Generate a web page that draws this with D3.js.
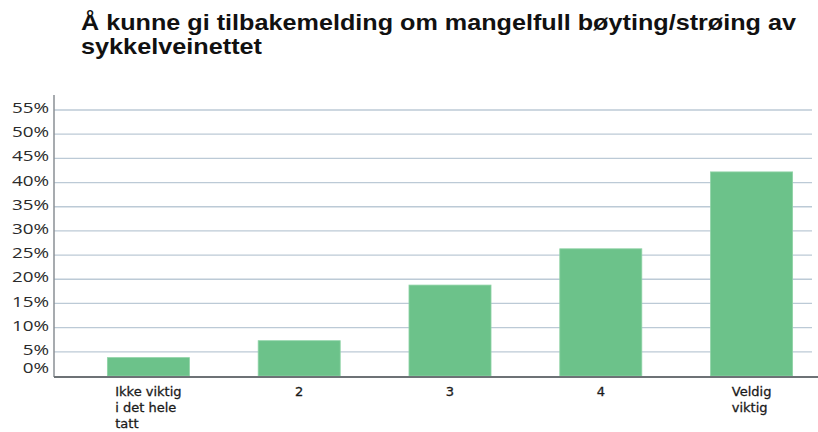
<!DOCTYPE html>
<html>
<head>
<meta charset="utf-8">
<script src="https://cdn.jsdelivr.net/npm/d3@7"></script>
<style>
  body { margin: 0; background: #fff; }
  svg { display: block; }
</style>
</head>
<body>
<script>
// chart data
const categories = ['Ikke viktig|i det hele|tatt', '2', '3', '4', 'Veldig|viktig'];
const shares = [0.038, 0.073, 0.188, 0.263, 0.422];
const yTicks = [0, 0.05, 0.10, 0.15, 0.20, 0.25, 0.30, 0.35, 0.40, 0.45, 0.50, 0.55];
const titleLines = ['Å kunne gi tilbakemelding om mangelfull bøyting/strøing av', 'sykkelveinettet'];
const titleWidths = [715, 181];

const W = 818, H = 432;
const axisLeft = 54, gridRight = 812;

const svg = d3.select('body').append('svg')
    .attr('width', W)
    .attr('height', H);

// title (the scan is stretched sideways, so force the widths)
svg.append('g').selectAll('text')
    .data(titleLines)
    .enter().append('text')
    .attr('x', 81)
    .attr('y', (d, i) => 29.5 + i * 24.5)
    .attr('textLength', (d, i) => titleWidths[i])
    .attr('lengthAdjust', 'spacingAndGlyphs')
    .style('font-family', '"Liberation Sans", Arial, sans-serif')
    .style('font-weight', 'bold')
    .style('font-size', '21.5px')
    .style('fill', '#111')
    .text(d => d);

const y = d3.scaleLinear()
    .domain([0, 0.55])
    .range([376, 110]);

const x = d3.scaleBand()
    .domain(categories)
    .range([73, 827])
    .paddingInner(0.456)
    .paddingOuter(0.228);

// gridlines
svg.append('g').selectAll('line')
    .data(yTicks.filter(t => t > 0))
    .enter().append('line')
    .attr('x1', axisLeft)
    .attr('x2', gridRight)
    .attr('y1', d => y(d))
    .attr('y2', d => y(d))
    .attr('stroke', '#bccad6')
    .attr('stroke-width', 1.3);

// y tick labels, widened like the scan
svg.append('g').selectAll('text')
    .data(yTicks)
    .enter().append('text')
    .attr('transform', d => `translate(49,${y(d) - (d === 0 ? 8 : 2)}) scale(1.3,1)`)
    .attr('dy', '0.35em')
    .attr('text-anchor', 'end')
    .style('font-family', '"Open Sans", sans-serif')
    .style('font-size', '14.5px')
    .style('fill', '#2a2a2a')
    .text(d => Math.round(d * 100) + '%');

// bars
svg.append('g').selectAll('rect')
    .data(shares)
    .enter().append('rect')
    .attr('x', (d, i) => x(categories[i]))
    .attr('y', d => y(d))
    .attr('width', x.bandwidth())
    .attr('height', d => y(0) - y(d))
    .attr('fill', '#6cc28a')
    .attr('stroke', '#8fd3a6')
    .attr('stroke-width', 0.8);

// axis lines
svg.append('line')
    .attr('x1', axisLeft).attr('x2', axisLeft)
    .attr('y1', 95).attr('y2', 377)
    .attr('stroke', '#8a8f94')
    .attr('stroke-width', 1.5);
svg.append('line')
    .attr('x1', axisLeft).attr('x2', gridRight + 6)
    .attr('y1', 377).attr('y2', 377)
    .attr('stroke', '#6d7276')
    .attr('stroke-width', 2.2);

// category labels: block centred on bar, lines left-aligned
categories.forEach(cat => {
    const lines = cat.split('|');
    const g = svg.append('g');
    const texts = g.selectAll('text')
        .data(lines)
        .enter().append('text')
        .attr('y', (d, i) => 396 + i * 16)
        .style('font-family', '"DejaVu Sans", sans-serif')
        .style('font-size', '13px')
        .style('fill', '#1a1a1a')
        .style('stroke', '#1a1a1a')
        .style('stroke-width', 0.3)
        .text(d => d);
    let maxW = 0;
    texts.each(function () { maxW = Math.max(maxW, this.getComputedTextLength()); });
    const cx = x(cat) + x.bandwidth() / 2;
    texts.attr('x', cx - maxW / 2);
});
</script>
</body>
</html>
